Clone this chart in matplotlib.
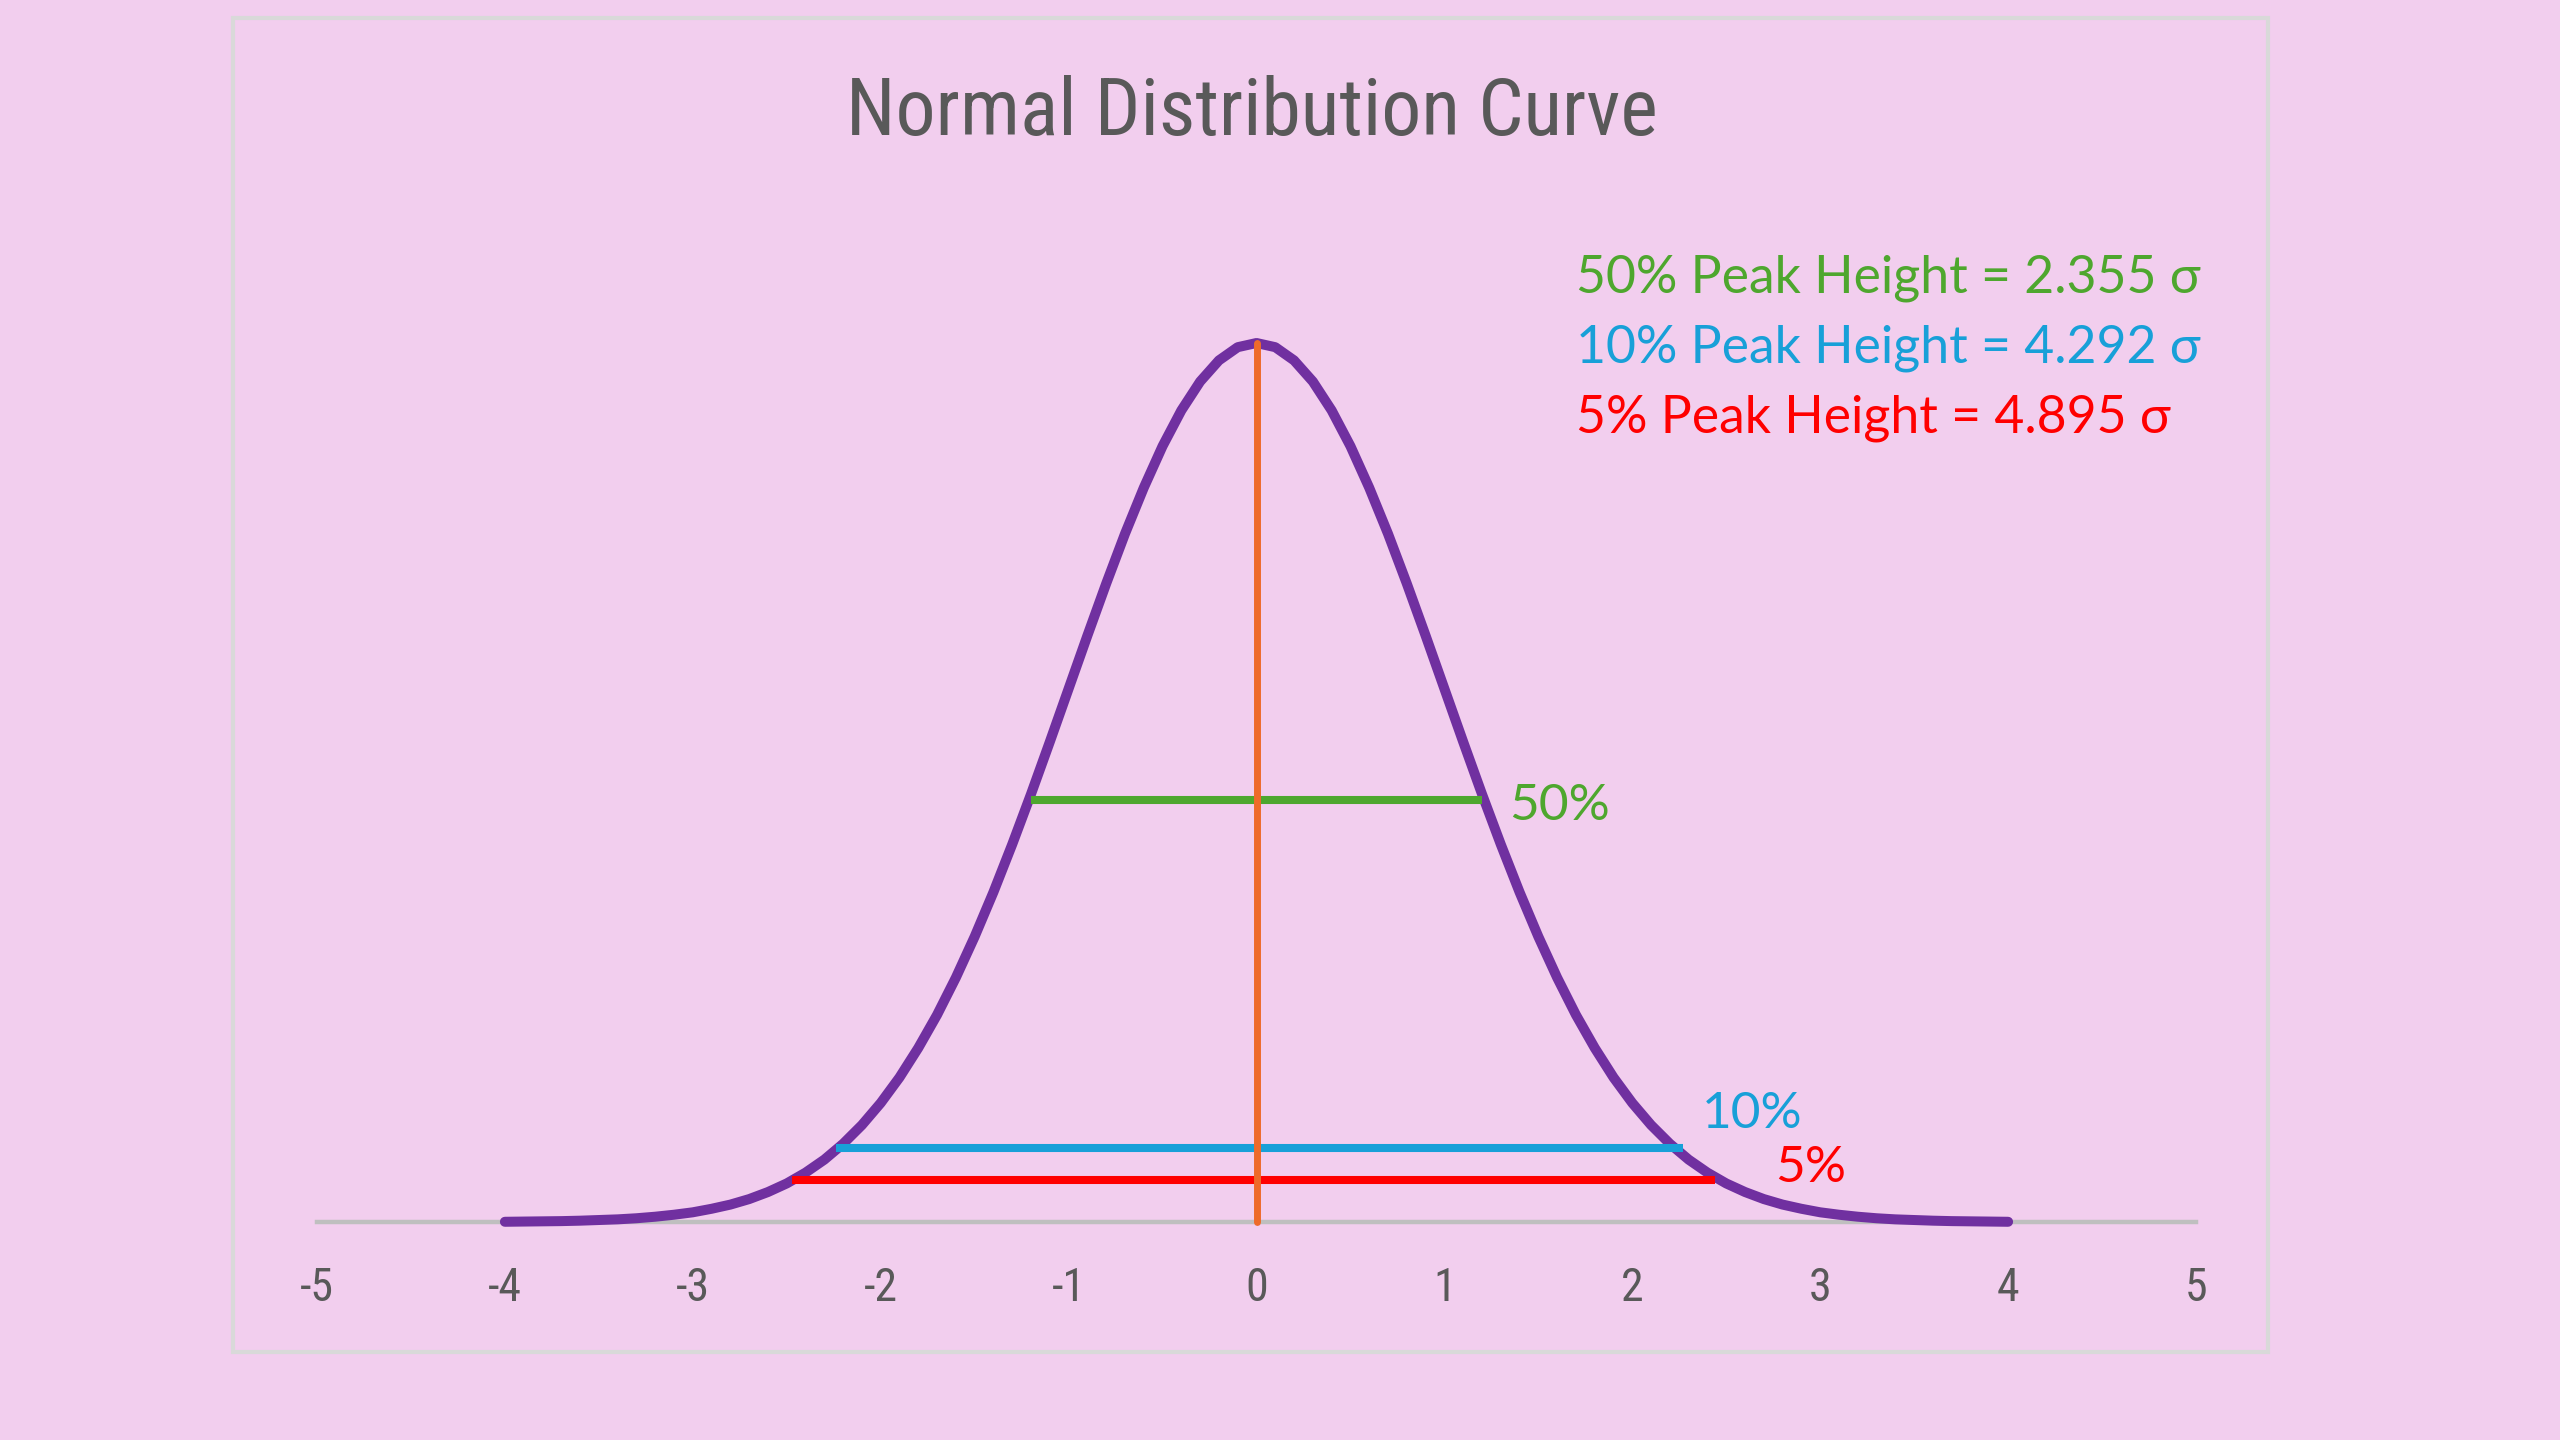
import matplotlib
matplotlib.use('Agg')
import matplotlib.pyplot as plt
from matplotlib.patches import Rectangle
from matplotlib import font_manager

# ---------------- data ----------------
title_text = 'Normal Distribution Curve'
curve_x = [-4.0, -3.9, -3.8, -3.7, -3.6, -3.5, -3.4, -3.3, -3.2, -3.1,
           -3.0, -2.9, -2.8, -2.7, -2.6, -2.5, -2.4, -2.3, -2.2, -2.1,
           -2.0, -1.9, -1.8, -1.7, -1.6, -1.5, -1.4, -1.3, -1.2, -1.1,
           -1.0, -0.9, -0.8, -0.7, -0.6, -0.5, -0.4, -0.3, -0.2, -0.1,
           0.0, 0.1, 0.2, 0.3, 0.4, 0.5, 0.6, 0.7, 0.8, 0.9,
           1.0, 1.1, 1.2, 1.3, 1.4, 1.5, 1.6, 1.7, 1.8, 1.9,
           2.0, 2.1, 2.2, 2.3, 2.4, 2.5, 2.6, 2.7, 2.8, 2.9,
           3.0, 3.1, 3.2, 3.3, 3.4, 3.5, 3.6, 3.7, 3.8, 3.9, 4.0]
curve_y = [0.0001, 0.0002, 0.0003, 0.0004, 0.0006, 0.0009, 0.0012, 0.0017, 0.0024, 0.0033,
           0.0044, 0.0060, 0.0079, 0.0104, 0.0136, 0.0175, 0.0224, 0.0283, 0.0355, 0.0440,
           0.0540, 0.0656, 0.0790, 0.0940, 0.1109, 0.1295, 0.1497, 0.1714, 0.1942, 0.2179,
           0.2420, 0.2661, 0.2897, 0.3123, 0.3332, 0.3521, 0.3683, 0.3814, 0.3910, 0.3970,
           0.3989, 0.3970, 0.3910, 0.3814, 0.3683, 0.3521, 0.3332, 0.3123, 0.2897, 0.2661,
           0.2420, 0.2179, 0.1942, 0.1714, 0.1497, 0.1295, 0.1109, 0.0940, 0.0790, 0.0656,
           0.0540, 0.0440, 0.0355, 0.0283, 0.0224, 0.0175, 0.0136, 0.0104, 0.0079, 0.0060,
           0.0044, 0.0033, 0.0024, 0.0017, 0.0012, 0.0009, 0.0006, 0.0004, 0.0003, 0.0002, 0.0001]
peak_x = 0.0
peak_y = 0.3989
level_labels = ['50%', '10%', '5%']
level_heights = [0.1915, 0.0336, 0.0191]
level_left = [-1.20, -2.24, -2.47]
level_right = [1.20, 2.27, 2.44]
width_factors = ['2.355', '4.292', '4.895']
tick_values = [-5, -4, -3, -2, -1, 0, 1, 2, 3, 4, 5]
tick_labels = ['-5', '-4', '-3', '-2', '-1', '0', '1', '2', '3', '4', '5']

# ---------------- style ----------------
BG = '#F2CEEE'
FRAME = '#D9D9D9'
AXIS = '#BFBFBF'
TEXT = '#595959'
PURPLE = '#7030A0'
ORANGE = '#EE6A2A'
level_colors = ['#4EA72E', '#18A0D8', '#FF0000']
label_offsets = [(27, -20), (19, 20), (60, -2)]  # pixels from right end of line

names = {f.name for f in font_manager.fontManager.ttflist}
narrow = 'Liberation Sans Narrow' if 'Liberation Sans Narrow' in names else (
    'Roboto Condensed' if 'Roboto Condensed' in names else 'Roboto')
calib = ['Lato', 'Noto Sans', 'DejaVu Sans']

W, H = 2560, 1440
fig = plt.figure(figsize=(W / 100, H / 100), dpi=100, facecolor=BG)

# chart frame
fig.patches.append(Rectangle((233 / W, 1 - 1352 / H), (2268 - 233) / W, (1352 - 18) / H,
                             transform=fig.transFigure, fill=False, edgecolor=FRAME,
                             linewidth=3.0, zorder=0))

ax_left, ax_right = 317 / W, 2196 / W
ax_bottom = 1 - 1222 / H
ax_top = 1 - 200 / H
ax = fig.add_axes([ax_left, ax_bottom, ax_right - ax_left, ax_top - ax_bottom])
ax.set_facecolor('none')
ymax = (1222 - 200) / ((1222 - 343) / peak_y)
ax.set_xlim(-5, 5)
ax.set_ylim(0, ymax)
for s in ['top', 'left', 'right']:
    ax.spines[s].set_visible(False)
ax.spines['bottom'].set_color(AXIS)
ax.spines['bottom'].set_linewidth(3.2)
ax.spines['bottom'].set_zorder(1)
ax.set_yticks([])
ax.set_xticks(tick_values)
ax.set_xticklabels(tick_labels, fontfamily=narrow, fontsize=33, color=TEXT)
ax.tick_params(axis='x', length=0, pad=32)

# curve
ax.plot(curve_x, curve_y, color=PURPLE, linewidth=7.2, solid_capstyle='round',
        solid_joinstyle='round', zorder=3, clip_on=False)
# level lines
for lab, hgt, xl, xr, col, off in zip(level_labels, level_heights, level_left, level_right,
                                      level_colors, label_offsets):
    ax.plot([xl, xr], [hgt, hgt], color=col, linewidth=5.8, solid_capstyle='butt', zorder=4)
    ax.annotate(lab, xy=(xr, hgt), xytext=off, textcoords='offset pixels',
                ha='left', va='baseline', color=col, fontfamily=calib, fontsize=37)
# peak line
ax.plot([peak_x, peak_x], [0, peak_y], color=ORANGE, linewidth=5.0,
        solid_capstyle='round', zorder=5, clip_on=False)

# title
title = fig.text(1252 / W, 1 - 135 / H, title_text, ha='center', va='baseline',
                 color=TEXT, fontfamily=narrow, fontsize=53)

# annotations
ann = []
for i, (fac, col) in enumerate(zip(width_factors, level_colors)):
    t = fig.text(1576 / W, 1 - (293 + 70 * i) / H,
                 f'{level_labels[i]} Peak Height = {fac} σ',
                 ha='left', va='baseline', color=col, fontfamily=calib, fontsize=40)
    ann.append(t)

# fit text widths to the reference layout
renderer = fig.canvas.get_renderer()
for _ in range(2):
    bb = title.get_window_extent(renderer)
    title.set_fontsize(title.get_fontsize() * 812 / bb.width)
    bb = ann[0].get_window_extent(renderer)
    fs = ann[0].get_fontsize() * 625 / bb.width
    for t in ann:
        t.set_fontsize(fs)

fig.savefig('out.png', dpi=100, facecolor=BG)
